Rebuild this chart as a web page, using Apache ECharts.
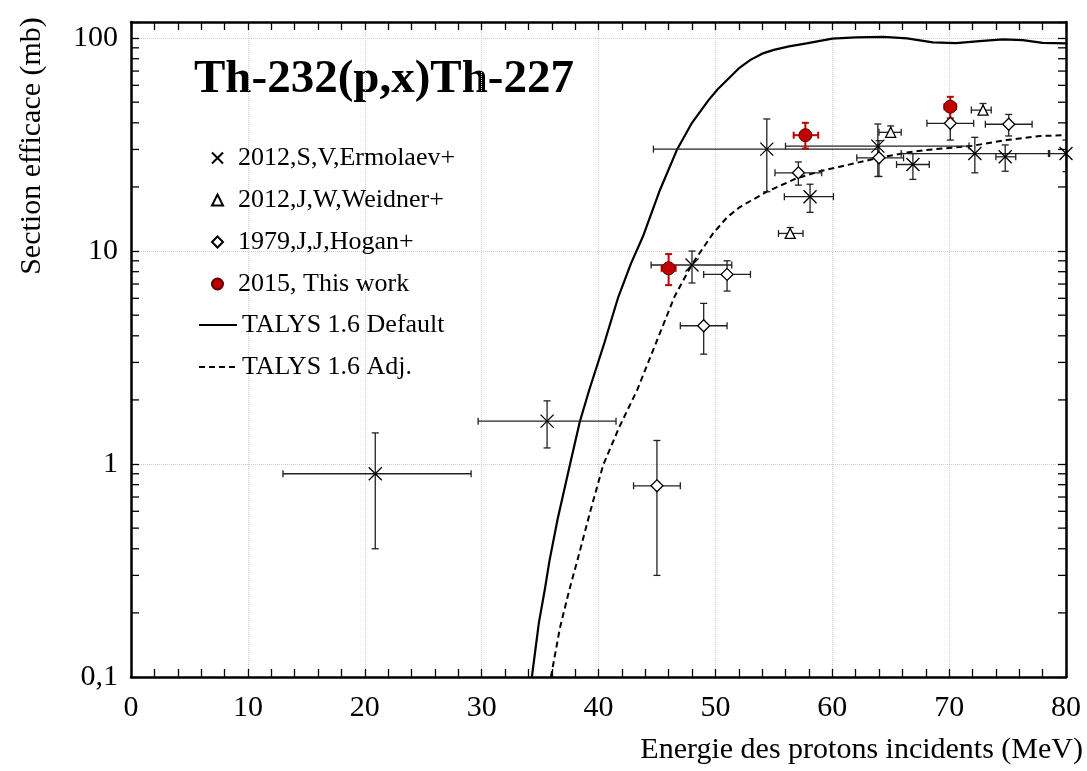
<!DOCTYPE html>
<html>
<head>
<meta charset="utf-8">
<script src="https://cdn.jsdelivr.net/npm/echarts@6/dist/echarts.min.js"></script>
<style>
  html, body { margin: 0; padding: 0; background: #fff; }
  #main { width: 1087px; height: 771px; }
</style>
</head>
<body>
<div id="main"></div>
<script>
// rows: [E, sigma, Emin, Emax, sigmaMin, sigmaMax]
var ermolaev = [
  [20.9, 0.90, 13.0, 29.1, 0.40, 1.40],
  [35.6, 1.59, 29.7, 41.5, 1.19, 1.98],
  [48.0, 8.6, 44.5, 51.4, 7.08, 10.0],
  [54.4, 30.1, 44.7, 63.9, 19.0, 41.7],
  [58.1, 18.0, 55.9, 60.1, 15.2, 20.6],
  [63.9, 31.1, 56.0, 71.7, 22.4, 39.5],
  [66.9, 25.5, 65.5, 68.3, 21.7, 28.7],
  [72.2, 28.7, 65.9, 78.5, 23.3, 34.2],
  [74.8, 27.7, 74.0, 75.7, 23.7, 31.5],
  [80.0, 28.7, 78.6, 81.4, 23.6, 33.2]
];
var weidner = [
  [56.4, 12.1, 55.4, 57.5, 11.5, 12.9],
  [65.0, 36.1, 64.0, 65.9, 34.2, 38.7],
  [72.9, 45.9, 71.9, 73.6, 43.8, 49.3]
];
var hogan = [
  [45.0, 0.79, 43.0, 47.0, 0.30, 1.29],
  [49.0, 4.46, 47.0, 51.0, 3.28, 5.68],
  [51.0, 7.77, 49.0, 53.0, 6.49, 9.0],
  [57.1, 23.3, 55.1, 59.1, 20.4, 26.2],
  [64.0, 27.4, 62.1, 66.1, 22.4, 33.0],
  [70.1, 39.8, 68.1, 72.1, 33.2, 46.0],
  [75.1, 39.4, 73.1, 77.1, 34.7, 43.8]
];
var thisWork = [
  [46.0, 8.3, 45.4, 46.6, 6.92, 9.68],
  [57.7, 35.0, 56.7, 58.8, 30.3, 40.0],
  [70.1, 47.6, 69.6, 70.6, 42.0, 53.0]
];
// TALYS curves [E, sigma]
var talysDefault = [
  [34.3, 0.1], [34.9, 0.18], [35.4, 0.256], [35.8, 0.35], [36.5, 0.55], [37.55, 0.99],
  [38.4, 1.58], [39.2, 2.22], [40.5, 3.7], [41.7, 6.1], [42.8, 8.8], [43.8, 11.7],
  [45.25, 19.3], [46.7, 29.8], [48.0, 40], [49.4, 51], [50.2, 57.5], [51.0, 63.6],
  [52.0, 72], [53.0, 79], [54.0, 84.5], [55.0, 88], [56.3, 91.5], [57.8, 94.4],
  [60.0, 99.5], [62.0, 100.8], [64.4, 101.4], [66.4, 99.7], [68.6, 95.5], [70.6, 94.7],
  [72.6, 96.8], [74.6, 98.6], [76.3, 97.9], [78.0, 95], [80.0, 94.4]
];
var talysAdj = [
  [35.93, 0.1], [36.7, 0.17], [37.5, 0.256], [38.2, 0.354], [39.3, 0.6], [40.4, 0.99],
  [41.8, 1.5], [43.3, 2.22], [45.0, 3.8], [46.5, 6.1], [47.96, 8.6], [49.8, 12.1],
  [51.0, 14.4], [52.1, 16.1], [54.4, 19.0], [56.9, 21.9], [58.8, 23.6], [60.65, 24.9],
  [64.1, 27.5], [66.4, 29], [68.0, 29.8], [71.8, 31.1], [74.9, 33.2], [77.8, 34.7],
  [80.0, 35]
];
var names = ['2012,S,V,Ermolaev+', '2012,J,W,Weidner+', '1979,J,J,Hogan+', '2015, This work', 'TALYS 1.6 Default', 'TALYS 1.6 Adj.'];

var xMin = 0, xMax = 80, yMin = 0.1, yMax = 119;
var serif = "'Liberation Serif', 'Times New Roman', 'DejaVu Serif', serif";

// log minor tick positions (2..9 in each decade)
var minorY = [];
[0.1, 1, 10].forEach(function (d) {
  for (var k = 2; k <= 9; k++) minorY.push([xMin, +(k * d).toFixed(3)]);
});

function errRender(color, width) {
  return function (params, api) {
    var c = api.coord([api.value(0), api.value(1)]);
    var l = api.coord([api.value(2), api.value(1)]);
    var r = api.coord([api.value(3), api.value(1)]);
    var b = api.coord([api.value(0), api.value(4)]);
    var t = api.coord([api.value(0), api.value(5)]);
    var cap = 3.5;
    var st = { stroke: color, lineWidth: width };
    return {
      type: 'group',
      children: [
        { type: 'line', shape: { x1: l[0], y1: c[1], x2: r[0], y2: c[1] }, style: st },
        { type: 'line', shape: { x1: l[0], y1: c[1] - cap, x2: l[0], y2: c[1] + cap }, style: st },
        { type: 'line', shape: { x1: r[0], y1: c[1] - cap, x2: r[0], y2: c[1] + cap }, style: st },
        { type: 'line', shape: { x1: c[0], y1: b[1], x2: c[0], y2: t[1] }, style: st },
        { type: 'line', shape: { x1: c[0] - cap, y1: b[1], x2: c[0] + cap, y2: b[1] }, style: st },
        { type: 'line', shape: { x1: c[0] - cap, y1: t[1], x2: c[0] + cap, y2: t[1] }, style: st }
      ]
    };
  };
}

function errSeries(data, color, width) {
  return {
    type: 'custom',
    renderItem: errRender(color, width),
    data: data,
    encode: { x: 0, y: 1 },
    clip: true,
    silent: true,
    z: 3
  };
}

var noDot = { color: 'rgba(0,0,0,0)', borderColor: 'rgba(0,0,0,0)', borderWidth: 0 };

var chart = echarts.init(document.getElementById('main'));

chart.setOption({
  animation: false,
  backgroundColor: '#fff',
  grid: { left: 131, right: 21, top: 22, bottom: 94, outerBoundsMode: 'none' },
  legend: [
    {
      orient: 'vertical',
      left: 206,
      top: 140,
      itemWidth: 11,
      itemHeight: 11,
      itemGap: 16,
      textStyle: { fontFamily: serif, fontSize: 26, color: '#000', padding: [0, 0, 0, 10] },
      data: names.slice(0, 4)
    },
    {
      orient: 'vertical',
      left: 193,
      top: 307,
      itemWidth: 38,
      itemHeight: 12,
      itemGap: 16,
      textStyle: { fontFamily: serif, fontSize: 26, color: '#000' },
      data: [{ name: names[4], itemStyle: noDot }, { name: names[5], itemStyle: noDot }]
    }
  ],
  graphic: [
    { type: 'text', x: 194, y: 80, style: { text: 'Th-232(p,x)Th-227', font: 'bold 47px ' + serif, fill: '#000', align: 'left', verticalAlign: 'middle' } },
    { type: 'text', x: 1083, y: 750, style: { text: 'Energie des protons incidents (MeV)', font: '30px ' + serif, fill: '#000', align: 'right', verticalAlign: 'middle' } },
    { type: 'text', x: 32, y: 146, rotation: Math.PI / 2, style: { text: 'Section efficace (mb)', font: '30px ' + serif, fill: '#000', align: 'center', verticalAlign: 'middle' } }
  ],
  xAxis: [
    {
      type: 'value', min: xMin, max: xMax, interval: 10,
      axisLine: { onZero: false, lineStyle: { color: '#000', width: 2.5 } },
      axisTick: { inside: true, length: 8, lineStyle: { color: '#000', width: 1.3 } },
      minorTick: { show: true, splitNumber: 5, length: 8, lineStyle: { color: '#000', width: 1.3 } },
      axisLabel: { margin: 16, fontFamily: serif, fontSize: 30, color: '#000' },
      splitLine: { show: true, lineStyle: { color: '#cfcfcf', type: 'dotted', width: 1 } }
    },
    {
      type: 'value', position: 'top', min: xMin, max: xMax, interval: 10,
      axisLine: { onZero: false, lineStyle: { color: '#000', width: 2.5 } },
      axisTick: { inside: true, length: 8, lineStyle: { color: '#000', width: 1.3 } },
      minorTick: { show: true, splitNumber: 5, length: 8, lineStyle: { color: '#000', width: 1.3 } },
      axisLabel: { show: false },
      splitLine: { show: false }
    }
  ],
  yAxis: [
    {
      type: 'log', logBase: 10, min: yMin, max: yMax,
      axisLine: { onZero: false, lineStyle: { color: '#000', width: 2.5 } },
      axisTick: { inside: true, length: 8, lineStyle: { color: '#000', width: 1.3 } },
      axisLabel: {
        margin: 13, fontFamily: serif, fontSize: 30, color: '#000',
        formatter: function (v) {
          var lg = Math.log10(v);
          if (Math.abs(lg - Math.round(lg)) > 1e-6) return '';
          if (v < 1) return '0,1';
          return String(Math.round(v));
        }
      },
      splitLine: { show: true, lineStyle: { color: '#cfcfcf', type: 'dotted', width: 1 } }
    },
    {
      type: 'log', logBase: 10, min: yMin, max: yMax, position: 'right',
      axisLine: { onZero: false, lineStyle: { color: '#000', width: 2.5 } },
      axisTick: { inside: true, length: 8, lineStyle: { color: '#000', width: 1.3 } },
      axisLabel: { show: false },
      splitLine: { show: false }
    }
  ],
  series: [
    {
      type: 'custom',
      silent: true,
      data: minorY,
      encode: { x: 0, y: 1 },
      renderItem: function (params, api) {
        var l = api.coord([xMin, api.value(1)]);
        var r = api.coord([xMax, api.value(1)]);
        var st = { stroke: '#000', lineWidth: 1.3 };
        return {
          type: 'group',
          children: [
            { type: 'line', shape: { x1: l[0], y1: l[1], x2: l[0] + 8, y2: l[1] }, style: st },
            { type: 'line', shape: { x1: r[0], y1: r[1], x2: r[0] - 8, y2: r[1] }, style: st }
          ]
        };
      }
    },
    {
      name: names[4], type: 'line', data: talysDefault, symbol: 'none',
      smooth: false, clip: true,
      lineStyle: { color: '#000', width: 2.2 }, itemStyle: { color: '#000' }, z: 2
    },
    {
      name: names[5], type: 'line', data: talysAdj, symbol: 'none',
      smooth: false, clip: true,
      lineStyle: { color: '#000', width: 2, type: [6, 4] }, itemStyle: { color: '#000' }, z: 2
    },
    errSeries(ermolaev, '#222', 1.3),
    errSeries(weidner, '#222', 1.3),
    errSeries(hogan, '#222', 1.3),
    errSeries(thisWork, '#c00000', 2),
    {
      name: names[0], type: 'scatter', data: ermolaev.map(function (d) { return [d[0], d[1]]; }),
      symbol: 'path://M0,0L10,10M0,10L10,0', symbolSize: 13, clip: true,
      itemStyle: { color: 'rgba(0,0,0,0)', borderColor: '#000', borderWidth: 1.3, opacity: 1 }, z: 4
    },
    {
      name: names[1], type: 'scatter', data: weidner.map(function (d) { return [d[0], d[1]]; }),
      symbol: 'triangle', symbolSize: 10,
      itemStyle: { color: '#fff', borderColor: '#000', borderWidth: 1.3, opacity: 1 }, z: 4
    },
    {
      name: names[2], type: 'scatter', data: hogan.map(function (d) { return [d[0], d[1]]; }),
      symbol: 'diamond', symbolSize: 12,
      itemStyle: { color: '#fff', borderColor: '#000', borderWidth: 1.3, opacity: 1 }, z: 4
    },
    {
      name: names[3], type: 'scatter', data: thisWork.map(function (d) { return [d[0], d[1]]; }),
      symbol: 'circle', symbolSize: 13,
      itemStyle: { color: '#c00000', borderColor: '#5a0000', borderWidth: 1, opacity: 1 }, z: 5
    }
  ]
});
</script>
</body>
</html>
